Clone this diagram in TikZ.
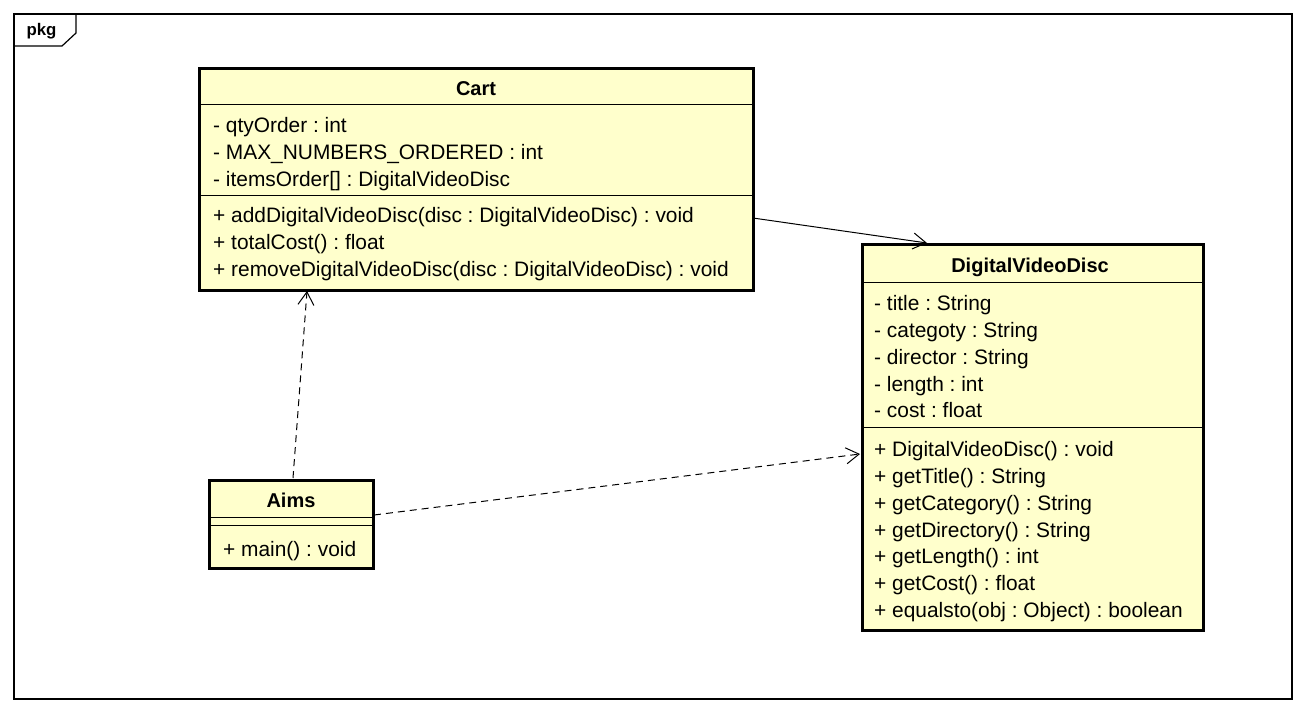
\documentclass[tikz,border=0pt]{standalone}
\usepackage{fontspec}
\setmainfont{Liberation Sans}
\usetikzlibrary{arrows.meta}
\definecolor{clsfill}{HTML}{FFFFCC}
\frenchspacing
\tikzset{
  cls/.style={draw=black, line width=3pt, fill=clsfill, anchor=north west, inner sep=0pt, outer sep=0pt},
  sep/.style={line width=1pt},
  txt/.style={anchor=base west, inner sep=0pt, font=\fontsize{20.9}{24}\selectfont\frenchspacing},
  ttl/.style={anchor=base, inner sep=0pt, font=\fontsize{20}{24}\selectfont\bfseries},
  open/.style={-{Straight Barb[length=13pt,width=16pt,line width=1pt]}, line width=1pt},
  dep/.style={open, dash pattern=on 7pt off 5pt}
}
\begin{document}
\begin{tikzpicture}[x=1pt,y=-1pt]
\useasboundingbox (0,0) rectangle (1305,713);
\fill[white] (0,0) rectangle (1305,713);
% package frame
\draw[line width=1.2pt] (14,14) rectangle (1292,699);
\draw[line width=1.2pt] (14,46) -- (62,46) -- (76,33) -- (76,14);
\node[anchor=center, inner sep=0pt, font=\fontsize{16.8}{20}\selectfont\bfseries] (pkg) at (41.5,31) {pkg};

% Cart
\node[cls, minimum width=554pt, minimum height=222pt] (cart) at (199,68) {};
\draw[sep] (199,104) -- (753,104);
\draw[sep] (199,195) -- (753,195);
\node[ttl] (cartT) at (476,95) {Cart};
\node[txt] (c1) at (213,132) {- qtyOrder : int};
\node[txt] (c2) at (213,159) {- MAX\_NUMBERS\_ORDERED : int};
\node[txt] (c3) at (213,186) {- itemsOrder[] : DigitalVideoDisc};
\node[txt] (c4) at (213,222.5) {+ addDigitalVideoDisc(disc : DigitalVideoDisc) : void};
\node[txt] (c5) at (213,249.5) {+ totalCost() : float};
\node[txt] (c6) at (213,276.5) {+ removeDigitalVideoDisc(disc : DigitalVideoDisc) : void};

% DigitalVideoDisc
\node[cls, minimum width=341pt, minimum height=386pt] (dvd) at (862,244) {};
\draw[sep] (862,282) -- (1203,282);
\draw[sep] (862,427) -- (1203,427);
\node[ttl] (dvdT) at (1030,272) {DigitalVideoDisc};
\node[txt] (d1) at (874,310) {- title : String};
\node[txt] (d2) at (874,337) {- categoty : String};
\node[txt] (d3) at (874,364) {- director : String};
\node[txt] (d4) at (874,391) {- length : int};
\node[txt] (d5) at (874,417.5) {- cost : float};
\node[txt] (d6) at (874,456) {+ DigitalVideoDisc() : void};
\node[txt] (d7) at (874,483) {+ getTitle() : String};
\node[txt] (d8) at (874,510) {+ getCategory() : String};
\node[txt] (d9) at (874,537) {+ getDirectory() : String};
\node[txt] (d10) at (874,563.5) {+ getLength() : int};
\node[txt] (d11) at (874,590.5) {+ getCost() : float};
\node[txt] (d12) at (874,617) {+ equalsto(obj : Object) : boolean};

% Aims
\node[cls, minimum width=164pt, minimum height=88pt] (aims) at (209,480) {};
\draw[sep] (209,517) -- (373,517);
\draw[sep] (209,525) -- (373,525);
\node[ttl] (aimsT) at (291,507) {Aims};
\node[txt] (a1) at (223,556) {+ main() : void};

% connectors
\coordinate (cartR) at (753,218);
\coordinate (dvdTop) at (927,243);
\coordinate (aimsTop) at (293,478);
\coordinate (cartBot) at (307,291);
\coordinate (aimsR) at (374,515);
\coordinate (dvdL) at (860,454);
\draw[open] (cartR) -- (dvdTop);
\draw[dep] (aimsTop) -- (cartBot);
\draw[dep] (aimsR) -- (dvdL);
\end{tikzpicture}
\end{document}
